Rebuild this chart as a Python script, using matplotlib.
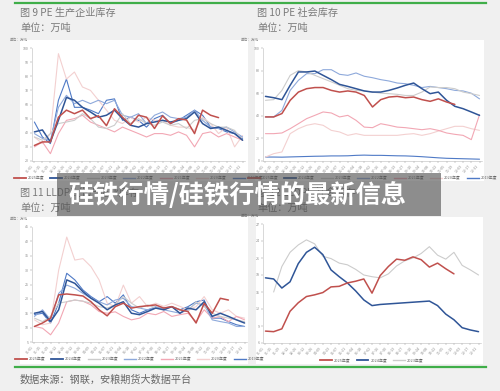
import numpy as np
import matplotlib
matplotlib.use("Agg")
import matplotlib.pyplot as plt
from matplotlib.patches import Rectangle
from matplotlib.lines import Line2D

plt.rcParams['font.family'] = ['Noto Sans CJK SC', 'DejaVu Sans']

# x tick labels (every 2 weeks)
week_labels = ['01-01', '01-15', '01-29', '02-12', '02-26', '03-12', '03-26', '04-09', '04-23',
               '05-07', '05-21', '06-04', '06-18', '07-02', '07-16', '07-30', '08-13', '08-27',
               '09-10', '09-24', '10-08', '10-22', '11-05', '11-19', '12-03', '12-17', '12-31']

years = ['2025年度', '2024年度', '2023年度', '2022年度', '2021年度', '2020年度', '2019年度']
colors = ['#c0504d', '#2f5597', '#cccccc', '#8ea9db', '#f2a7b4', '#f3d0d0', '#4f7ac6']
widths = [1.1, 1.1, 0.8, 0.8, 0.8, 0.8, 0.8]

# ---------- 图9 PE生产企业库存 ----------
pe_prod_2025 = [31, 33.5, 33.5, 51, 56, 53.5, 56, 50, 52, 45, 57, 51, 45.5, 52.4, 51, 43, 52, 46.5,
                50, 49, 39.4, 56, 52.4, 50.7]
pe_prod_2024 = [40.6, 42, 33.5, 48.8, 65, 63, 58, 54.7, 51, 52.4, 56, 50, 45.3, 44, 46.5, 47.6, 48.8,
                47.6, 48.8, 50, 54.7, 46.5, 43, 44, 41.7, 39.4, 34.7]
pe_prod_2023 = [37, 34.7, 39.4, 46.5, 47.6, 48.8, 53.5, 50, 44, 43, 45.3, 53.5, 46.5, 50, 46.5, 45.3,
                47.6, 45.3, 46.5, 43, 48.8, 50, 46.5, 44, 44, 41.7, 34.7]
pe_prod_2022 = [39.4, 36, 34.7, 58, 66.5, 60.6, 63, 60.6, 63, 60.6, 63, 52.4, 51, 53.5, 46.5, 52.4,
                54.7, 51, 50, 51, 56, 48.8, 44, 43, 44, 40.6, 37]
pe_prod_2021 = [30, 33.5, 25.2, 39.4, 48.8, 50, 52.4, 47.6, 45.3, 43, 40.6, 44, 41.7, 39.4, 37, 39.4,
                39.4, 38.2, 40.6, 38.2, 30, 39.4, 40.6, 37, 39.4, 37, 34.7]
pe_prod_2020 = [37, 32.3, 39.4, 96, 78, 83, 72.4, 70, 63, 56, 48.8, 46.5, 51, 47.6, 51, 48.8, 48.8,
                45.3, 44, 44, 41.7, 51, 46.5, 39.4, 44, 30, 38]
pe_prod_2019 = [47.6, 37, 32.3, 63, 78, 58, 58, 56, 53.5, 63, 64, 48.8, 51, 48.8, 44, 50, 52.4, 46.5,
                48.8, 52.4, 56, 52.4, 44, 43, 40.6, 39.4, 36]

# ---------- 图10 PE社会库存 ----------
pe_soc_2025 = [39, 39, 42, 53.7, 61, 64, 65, 65, 62.5, 61, 62, 61, 58, 47.8, 54.3, 56.6, 57.2, 56,
               56.6, 54.3, 52.8, 55, 52.2, 50.1]
pe_soc_2024 = [57.2, 56, 54.3, 67, 78.8, 78.8, 79.6, 75.8, 72, 67.8, 66, 64, 62, 61, 61, 62.5, 64.6,
               67, 69, 64, 59.6, 61, 53.7, 48.4, 46.3, 43.4, 40.4]
pe_soc_2023 = [53.7, 54.3, 62.5, 75.8, 80, 78.8, 75.8, 72.9, 70, 67, 64, 62.5, 62, 61, 60, 59.6, 59,
               58, 58, 61, 65.5, 65, 65, 64, 61, 59.6, 58]
pe_soc_2022 = [39, 39, 44.8, 62.5, 71.4, 77.3, 77.3, 80.8, 80.8, 76.7, 75.8, 77.9, 75, 73.7, 72, 70.8,
               69, 68.4, 67, 65, 66, 65, 64, 62.5, 62, 60, 55]
pe_soc_2021 = [24.2, 24.2, 24.8, 28.6, 33, 37.5, 40.4, 43.4, 42.5, 39, 40.4, 36, 30, 29.5, 33, 31.6,
               30, 29.5, 28.6, 27.7, 28.6, 27.1, 24.8, 23.6, 22.7, 18.9, 41]
pe_soc_2020 = [3.5, 6.5, 8, 24.2, 28.6, 31.6, 33, 31.6, 27.1, 25.7, 22.7, 24.2, 22.7, 22.7, 22.7,
               22.7, 22.7, 23.6, 24.2, 22.7, 24.2, 26.5, 28.6, 30.7, 30.7, 28.6, 27.1]
pe_soc_2019 = [3.5, 3.5, 3.4, 3.6, 3.8, 4, 4.2, 4.3, 4.5, 4.5, 4.6, 5, 5.2, 5, 5, 4.8, 4.6, 4.5, 4.2,
               3.8, 3.3, 2.8, 2.4, 2.2, 2, 1.8, 1.6]

# ---------- 图11 LLDPE生产企业库存 ----------
ll_prod_2025 = [10.4, 11.6, 13.3, 21.4, 21.7, 21.4, 21, 19, 16.2, 14.1, 17.3, 18.5, 16.8, 17.3, 17.6,
                17.9, 16.8, 17.3, 16.2, 15.6, 11.6, 18.5, 15, 20.2, 19.6]
ll_prod_2024 = [15, 15.6, 12.1, 16.2, 26.6, 25.4, 22.5, 20.2, 18.5, 16.2, 17.9, 19, 15, 14.5, 15.6,
                16.8, 16.2, 17.3, 15, 16.8, 16.2, 19, 13.9, 15, 13.9, 12.7, 11.6]
ll_prod_2023 = [13.3, 12.1, 13.9, 18.5, 19, 19.6, 19.2, 18.5, 17.3, 16.8, 17.9, 20.8, 18.5, 16.8, 17.9,
                16.9, 16.2, 17.3, 16.3, 15.6, 19, 17.3, 15, 13.9, 13.3, 12.7, 12.1]
ll_prod_2022 = [13.9, 16.2, 12.7, 21.9, 24.8, 23.7, 21.9, 20.2, 19, 17.9, 19.6, 20.2, 17.3, 16.8, 16.2,
                17.3, 16.2, 15.6, 15, 16.2, 18.5, 17.9, 12.7, 12.1, 11.6, 10.4, 10.4]
ll_prod_2021 = [10.4, 9.8, 7.5, 11.6, 19, 19.6, 19.2, 17.9, 15.6, 15, 15.5, 13.9, 12.7, 13.3, 15, 14.5,
                15.6, 13.9, 14.5, 15, 12.1, 16.2, 13.3, 13.9, 12.1, 13.9, 12.7]
ll_prod_2020 = [12.7, 11, 11.6, 30, 41.5, 33.5, 34, 31.2, 26.6, 18.5, 17.3, 24.8, 18.5, 20.8, 17.3,
                18.5, 17.4, 18.5, 17.4, 16.2, 17.3, 20.8, 16.2, 15, 16.2, 13.9, 13.3]
ll_prod_2019 = [14.5, 15, 11.6, 18.5, 28.9, 26.6, 23.1, 20.8, 19, 20.8, 18.5, 21.4, 16.2, 15, 16.2,
                16.8, 16.8, 17.3, 16.2, 17.3, 19, 19.6, 13.3, 13.3, 12.1, 11, 10.4]

# ---------- 图12 LLDPE社会库存 ----------
ll_soc_2025 = [8.1, 8.0, 8.5, 11.6, 13.1, 14.2, 14.5, 14.9, 15.9, 16.0, 16.6, 16.9, 17.3, 14.8, 17.9,
               19.5, 20.8, 20.6, 21.2, 20.7, 19.4, 20.1, 19.1, 18.2]
ll_soc_2024 = [17.5, 17.3, 15.7, 16.8, 20.0, 22.0, 22.9, 21.6, 18.9, 17.7, 16.6, 15.2, 13.6, 12.6,
               12.8, 12.9, 13.0, 13.1, 13.2, 13.3, 13.4, 12.6, 11.1, 10.1, 8.7, 8.3, 8.0]
ll_soc_2023 = [None, 15.0, 19.5, 22.0, 23.3, 24.2, 23.5, 21.3, 20.9, 20.1, 19.8, 19.0, 18.0, 17.7,
               17.5, 18.2, 19.6, 20.5, 21.0, 21.8, 23.0, 21.5, 20.8, 22.0, 19.7, 18.9, 18.0]

W, H = 500, 391
fig = plt.figure(figsize=(5, 3.91), dpi=100)
fig.patch.set_facecolor('#f0f0f0')


def px_rect(x0, y0, x1, y1, **kw):
    fig.add_artist(Rectangle((x0 / W, 1 - y1 / H), (x1 - x0) / W, (y1 - y0) / H,
                             transform=fig.transFigure, **kw))


def px_text(x, y, s, **kw):
    fig.text(x / W, 1 - y / H, s, **kw)


def panel(x0, y0, x1, y1, series, labels, yticks, ylim):
    ax = fig.add_axes([x0 / W, 1 - y1 / H, (x1 - x0) / W, (y1 - y0) / H])
    ax.set_zorder(2)
    ax.patch.set_alpha(0)
    # draw older years first so 2025 / 2024 sit on top
    for i in reversed(range(len(series))):
        v = np.array(series[i], dtype=float)
        ax.plot(np.arange(len(v)), v, color=colors[i], lw=widths[i], solid_capstyle='round',
                solid_joinstyle='round')
    ax.set_xlim(-0.3, 26.3)
    ax.set_ylim(*ylim)
    ax.set_yticks(yticks)
    ax.set_yticklabels([str(t) for t in yticks])
    ax.set_xticks(np.arange(len(week_labels)))
    ax.set_xticklabels(week_labels, rotation=50, ha='right')
    ax.tick_params(labelsize=2.6, colors='#888888', length=1.2, width=0.3, pad=1)
    for s in ['top', 'right']:
        ax.spines[s].set_visible(False)
    for s in ['left', 'bottom']:
        ax.spines[s].set_color('#bbbbbb')
        ax.spines[s].set_linewidth(0.4)
    ax.text(-0.02, 1.05, '单位：万吨', transform=ax.transAxes, fontsize=2.6, color='#888888',
            ha='right', va='bottom')
    handles = [Line2D([], [], color=colors[i], lw=widths[i] + 0.2) for i in range(len(labels))]
    ax.legend(handles, labels, loc='upper center', bbox_to_anchor=(0.5, -0.1), ncol=len(labels),
              fontsize=2.8, frameon=False, handlelength=3.0, columnspacing=1.6, handletextpad=0.5,
              labelcolor='#666666')
    return ax


# white chart cards
px_rect(20, 40, 248, 181, facecolor='white', edgecolor='none', zorder=0)
px_rect(255, 40, 484, 181, facecolor='white', edgecolor='none', zorder=0)
px_rect(20, 217, 248, 364, facecolor='white', edgecolor='none', zorder=0)
px_rect(256, 217, 483, 364, facecolor='white', edgecolor='none', zorder=0)

# green rules
fig.add_artist(Line2D([15 / W, 486 / W], [1 - 3 / H, 1 - 3 / H], color='#3fae49', lw=1.6))
fig.add_artist(Line2D([15 / W, 486 / W], [1 - 367 / H, 1 - 367 / H], color='#3fae49', lw=1.6))

title_kw = dict(fontsize=7.3, color='#7a7a7a', va='center', ha='left')
px_text(20, 13, '图 9 PE 生产企业库存', **title_kw)
px_text(20, 28, '单位：万吨', **title_kw)
px_text(257, 13, '图 10 PE 社会库存', **title_kw)
px_text(257, 28, '单位：万吨', **title_kw)
px_text(20, 193, '图 11 LLDPE 生产企业库存', **title_kw)
px_text(20, 208, '单位：万吨', **title_kw)
px_text(257, 193, '图 12 LLDPE 社会库存', **title_kw)
px_text(257, 208, '单位：万吨', **title_kw)
px_text(20, 380, '数据来源：钢联，安粮期货大数据平台', fontsize=7.3, color='#666666', va='center', ha='left')

panel(32, 48, 245, 161,
      [pe_prod_2025, pe_prod_2024, pe_prod_2023, pe_prod_2022, pe_prod_2021, pe_prod_2020, pe_prod_2019],
      years, list(range(20, 101, 10)), (20, 100))
panel(263, 48, 482, 161,
      [pe_soc_2025, pe_soc_2024, pe_soc_2023, pe_soc_2022, pe_soc_2021, pe_soc_2020, pe_soc_2019],
      years, list(range(0, 101, 20)), (0, 100))
panel(32, 227, 247, 342,
      [ll_prod_2025, ll_prod_2024, ll_prod_2023, ll_prod_2022, ll_prod_2021, ll_prod_2020, ll_prod_2019],
      years, list(range(5, 46, 5)), (5, 45))
panel(263, 224, 481, 343,
      [ll_soc_2025, ll_soc_2024, ll_soc_2023],
      years[:3], list(range(6, 28, 3)), (6, 27))

# overlay banner
px_rect(57, 173, 441, 216, facecolor='#505050', edgecolor='none', alpha=0.62, zorder=10)
fig.text(68 / W, 1 - 195 / H, '硅铁行情/硅铁行情的最新信息', fontsize=18.2, fontweight='bold',
         color='white', va='center', ha='left', zorder=11)

fig.savefig('out.png', dpi=100, facecolor=fig.get_facecolor())
